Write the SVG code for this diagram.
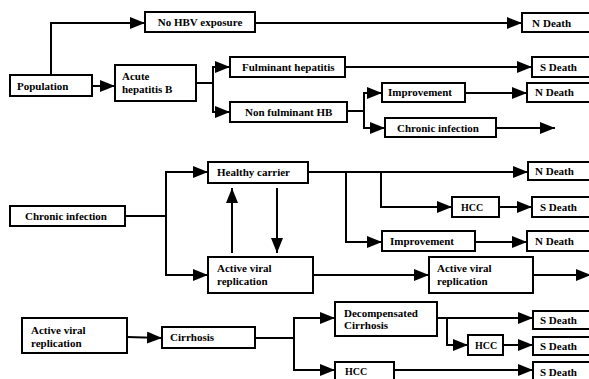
<svg xmlns="http://www.w3.org/2000/svg" width="589" height="379" viewBox="0 0 589 379">
<style>
.b{fill:#fff;stroke:#000;stroke-width:2}
.t{font-family:"Liberation Serif","Times New Roman",serif;font-weight:bold;font-size:11px;fill:#000}
.s{font-size:10px}
.c{fill:none;stroke:#000;stroke-width:2}
.a{marker-end:url(#ah)}
</style>
<defs>
<marker id="ah" markerUnits="userSpaceOnUse" markerWidth="16" markerHeight="12" refX="15" refY="6" orient="auto">
<path d="M0,0 L15,6 L0,12 z" fill="#000"/>
</marker>
</defs>
<rect width="589" height="379" fill="#fff"/>
<g id="connectors">
<polyline class="c a" points="51,75 51,23 145,23"/>
<line class="c a" x1="92" y1="86" x2="115" y2="86"/>
<polyline class="c" points="196,83 213,83"/>
<polyline class="c a" points="213,83 213,67 230,67"/>
<polyline class="c a" points="213,83 213,112 230,112"/>
<line class="c a" x1="255" y1="23" x2="522" y2="23"/>
<line class="c a" x1="345" y1="67" x2="532" y2="67"/>
<polyline class="c" points="347,111 364,111"/>
<polyline class="c a" points="364,111 364,93 382,93"/>
<polyline class="c a" points="364,111 364,128 385,128"/>
<line class="c a" x1="465" y1="93" x2="527" y2="93"/>
<line class="c a" x1="496" y1="128" x2="555" y2="128"/>
<polyline class="c" points="125,216 166,216"/>
<polyline class="c a" points="166,216 166,172 208,172"/>
<polyline class="c a" points="166,216 166,275 208,275"/>
<line class="c a" x1="232" y1="253" x2="232" y2="188"/>
<line class="c a" x1="277" y1="188" x2="277" y2="253"/>
<line class="c a" x1="308" y1="172" x2="528" y2="172"/>
<polyline class="c a" points="346,172 346,242 382,242"/>
<polyline class="c a" points="381,172 381,207 452,207"/>
<line class="c a" x1="499" y1="207" x2="532" y2="207"/>
<line class="c a" x1="475" y1="242" x2="527" y2="242"/>
<line class="c a" x1="313" y1="275" x2="429" y2="275"/>
<line class="c a" x1="533" y1="275" x2="591" y2="275"/>
<line class="c a" x1="127" y1="337" x2="162" y2="338"/>
<polyline class="c" points="255,338 294,338"/>
<polyline class="c a" points="294,338 294,318 335,318"/>
<polyline class="c a" points="294,338 294,370 335,370"/>
<line class="c a" x1="437" y1="318" x2="533" y2="318"/>
<polyline class="c a" points="447,318 447,345 468,345"/>
<line class="c a" x1="503" y1="345" x2="533" y2="345"/>
<line class="c a" x1="394" y1="370" x2="533" y2="370"/>
</g>
<g id="population"><rect class="b" x="10" y="75" width="82" height="21"/><text class="t" x="17" y="90">Population</text></g>
<g id="nohbv"><rect class="b" x="145" y="12" width="110" height="20"/><text class="t" x="200" y="26" text-anchor="middle">No HBV exposure</text></g>
<g id="ndeath1"><rect class="b" x="522" y="13" width="70" height="19"/><text class="t" x="532" y="27">N<tspan x="543">Death</tspan></text></g>
<g id="acute"><rect class="b" x="115" y="65" width="81" height="36"/><text class="t" x="122" y="80">Acute</text><text class="t" x="122" y="93">hepatitis B</text></g>
<g id="fulminant"><rect class="b" x="230" y="57" width="115" height="20"/><text class="t" x="242" y="71">Fulminant hepatitis</text></g>
<g id="sdeath1"><rect class="b" x="532" y="57" width="60" height="20"/><text class="t" x="540" y="71">S Death</text></g>
<g id="nonfulminant"><rect class="b" x="230" y="102" width="117" height="20"/><text class="t" x="245" y="116">Non fulminant HB</text></g>
<g id="improvement1"><rect class="b" x="382" y="83" width="83" height="19"/><text class="t" x="388" y="96">Improvement</text></g>
<g id="ndeath2"><rect class="b" x="527" y="83" width="65" height="19"/><text class="t" x="535" y="96">N Death</text></g>
<g id="chronic1"><rect class="b" x="385" y="118" width="111" height="19"/><text class="t" x="397" y="132">Chronic infection</text></g>
<g id="chronic2"><rect class="b" x="10" y="206" width="115" height="20"/><text class="t" x="25" y="220">Chronic infection</text></g>
<g id="healthy"><rect class="b" x="208" y="162" width="100" height="21"/><text class="t" x="217" y="176">Healthy carrier</text></g>
<g id="ndeath3"><rect class="b" x="528" y="162" width="64" height="18"/><text class="t" x="535" y="175">N Death</text></g>
<g id="hcc1"><rect class="b" x="452" y="197" width="47" height="20"/><text class="t s" x="461" y="211">HCC</text></g>
<g id="sdeath2"><rect class="b" x="532" y="197" width="60" height="20"/><text class="t" x="540" y="211">S Death</text></g>
<g id="improvement2"><rect class="b" x="382" y="231" width="93" height="20"/><text class="t" x="390" y="245">Improvement</text></g>
<g id="ndeath4"><rect class="b" x="527" y="231" width="65" height="20"/><text class="t" x="535" y="245">N Death</text></g>
<g id="active1"><rect class="b" x="208" y="257" width="105" height="36"/><text class="t" x="217" y="272">Active viral</text><text class="t" x="217" y="285">replication</text></g>
<g id="active2"><rect class="b" x="429" y="257" width="104" height="36"/><text class="t" x="437" y="272">Active viral</text><text class="t" x="437" y="285">replication</text></g>
<g id="active3"><rect class="b" x="22" y="318" width="105" height="35"/><text class="t" x="31" y="334">Active viral</text><text class="t" x="31" y="347">replication</text></g>
<g id="cirrhosis"><rect class="b" x="162" y="327" width="93" height="21"/><text class="t" x="170" y="341">Cirrhosis</text></g>
<g id="decomp"><rect class="b" x="335" y="302" width="102" height="34"/><text class="t" x="344" y="317">Decompensated</text><text class="t" x="344" y="329">Cirrhosis</text></g>
<g id="sdeath3"><rect class="b" x="533" y="311" width="60" height="18"/><text class="t" x="540" y="324">S Death</text></g>
<g id="hcc2"><rect class="b" x="468" y="335" width="35" height="20"/><text class="t s" x="475" y="349">HCC</text></g>
<g id="sdeath4"><rect class="b" x="533" y="337" width="60" height="18"/><text class="t" x="540" y="350">S Death</text></g>
<g id="hcc3"><rect class="b" x="335" y="362" width="59" height="20"/><text class="t s" x="345" y="375">HCC</text></g>
<g id="sdeath5"><rect class="b" x="533" y="362" width="60" height="20"/><text class="t" x="540" y="376">S Death</text></g>
</svg>
